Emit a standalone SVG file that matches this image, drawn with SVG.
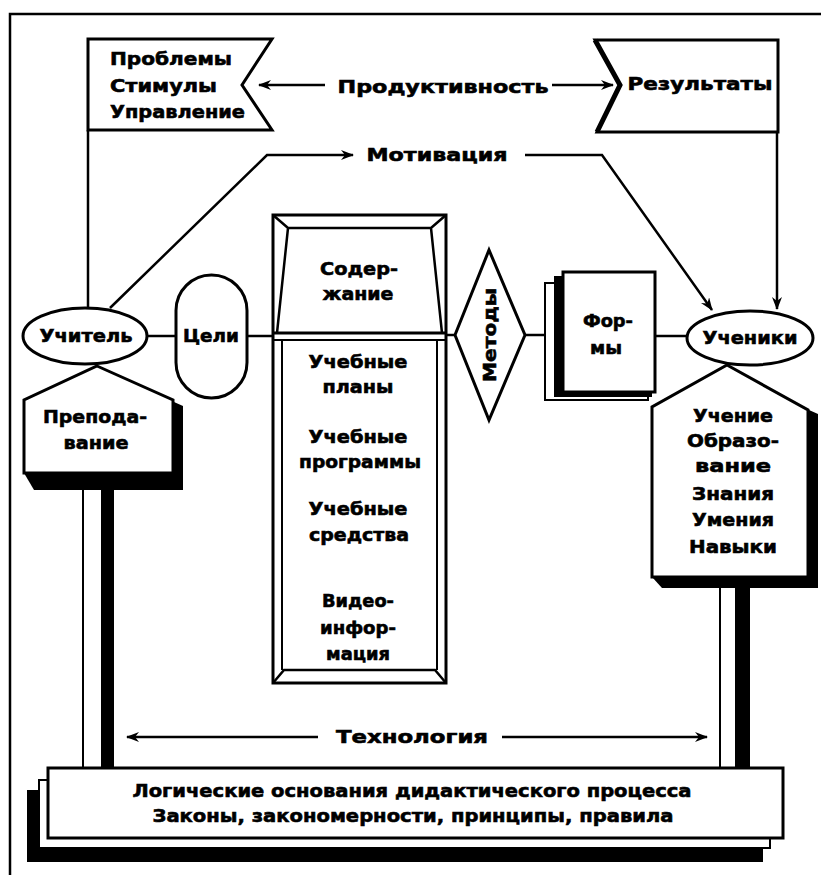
<svg xmlns="http://www.w3.org/2000/svg" width="821" height="875" viewBox="0 0 821 875">
<defs>
<style>
.s{fill:#fff;stroke:#000;stroke-width:3;stroke-linejoin:miter}
.s2{fill:#fff;stroke:#000;stroke-width:2}
.l{fill:none;stroke:#000;stroke-width:2.5}
.k{fill:#000;stroke:none}
.t{font-family:"DejaVu Sans","Liberation Sans",sans-serif;font-weight:bold;font-size:18px;fill:#000;stroke:#000;stroke-width:0.6;text-anchor:middle}
.ts{font-family:"DejaVu Sans","Liberation Sans",sans-serif;font-weight:bold;font-size:18px;fill:#000;stroke:#000;stroke-width:0.6;text-anchor:start}
</style>
<marker id="ah" viewBox="0 0 13 10" refX="12" refY="5" markerWidth="13" markerHeight="10" markerUnits="userSpaceOnUse" orient="auto">
<path d="M0,0 L13,5 L0,10 L4,5 Z" fill="#000"/>
</marker>
</defs>
<rect width="821" height="875" fill="#fff"/>
<g id="frame"><path class="l" d="M10,875 V14 H821" stroke-width="3"/></g>

<g id="supports">
<rect class="s2" x="83" y="488" width="19" height="280"/>
<rect class="k" x="102" y="488" width="12" height="280"/>
<rect class="s2" x="720" y="586" width="16" height="182"/>
<rect class="k" x="736" y="586" width="14" height="182"/>
</g>

<g id="connectors">
<path class="l" d="M88,130 V308"/>
<path class="l" d="M147,336 H176"/>
<path class="l" d="M247,336 H273"/>
<path class="l" d="M446,335 H455"/>
<path class="l" d="M525,335 H545"/>
<path class="l" d="M655,336 H687"/>
<path class="l" d="M325,85 H259" marker-end="url(#ah)"/>
<path class="l" d="M552,85 H613" marker-end="url(#ah)"/>
<path class="l" d="M110,308 L267,155 H353" marker-end="url(#ah)"/>
<path class="l" d="M525,155 H602 L712,310" marker-end="url(#ah)"/>
<path class="l" d="M777,132 V309" marker-end="url(#ah)"/>
<path class="l" d="M318,737 H127" marker-end="url(#ah)"/>
<path class="l" d="M502,737 H707" marker-end="url(#ah)"/>
<text class="t" x="443" y="93" textLength="211" lengthAdjust="spacingAndGlyphs">Продуктивность</text>
<text class="t" x="437" y="161" textLength="141" lengthAdjust="spacingAndGlyphs">Мотивация</text>
<text class="t" x="412" y="743" textLength="152" lengthAdjust="spacingAndGlyphs">Технология</text>
</g>

<g id="problems">
<polygon class="s" points="88,39 272,39 242,85 272,130 88,130"/>
<text class="ts" x="110" y="65" textLength="122" lengthAdjust="spacingAndGlyphs">Проблемы</text>
<text class="ts" x="110" y="92" textLength="107" lengthAdjust="spacingAndGlyphs">Стимулы</text>
<text class="ts" x="110" y="118" textLength="135" lengthAdjust="spacingAndGlyphs">Управление</text>
</g>

<g id="results">
<polygon class="s" points="595,40 778,40 778,132 597,132 620,85"/>
<polyline fill="none" stroke="#000" stroke-width="5" points="595,40 620,85 597,132"/>
<text class="t" x="700" y="90" textLength="145" lengthAdjust="spacingAndGlyphs">Результаты</text>
</g>

<g id="teacher">
<ellipse class="s" cx="85" cy="336" rx="62" ry="28"/>
<text class="t" x="86" y="342" textLength="93" lengthAdjust="spacingAndGlyphs">Учитель</text>
</g>

<g id="goals">
<rect class="s" x="176" y="275" width="71" height="123" rx="35.5"/>
<text class="t" x="211" y="342" textLength="56" lengthAdjust="spacingAndGlyphs">Цели</text>
</g>

<g id="content">
<rect class="s" x="273" y="215" width="173" height="468"/>
<path class="l" d="M273,215 L288,228 H431 L446,215 M288,228 L277,333 M431,228 L442,333"/>
<path fill="none" stroke="#000" stroke-width="3" d="M273,333 H446"/>
<path fill="none" stroke="#000" stroke-width="2" d="M273,340 H446 M282,340 V670 M437,340 V670"/>
<path class="l" d="M273,683 L284,670 H435 L446,683"/>
<text class="t" x="359" y="275" textLength="78" lengthAdjust="spacingAndGlyphs">Содер-</text>
<text class="t" x="358" y="300" textLength="71" lengthAdjust="spacingAndGlyphs">жание</text>
<text class="t" x="358" y="368" textLength="99" lengthAdjust="spacingAndGlyphs">Учебные</text>
<text class="t" x="358" y="393" textLength="71" lengthAdjust="spacingAndGlyphs">планы</text>
<text class="t" x="358" y="443" textLength="99" lengthAdjust="spacingAndGlyphs">Учебные</text>
<text class="t" x="360" y="468" textLength="122" lengthAdjust="spacingAndGlyphs">программы</text>
<text class="t" x="358" y="515" textLength="99" lengthAdjust="spacingAndGlyphs">Учебные</text>
<text class="t" x="359" y="541" textLength="100" lengthAdjust="spacingAndGlyphs">средства</text>
<text class="t" x="358" y="607" textLength="72" lengthAdjust="spacingAndGlyphs">Видео-</text>
<text class="t" x="358" y="634" textLength="76" lengthAdjust="spacingAndGlyphs">инфор-</text>
<text class="t" x="358" y="660" textLength="64" lengthAdjust="spacingAndGlyphs">мация</text>
</g>

<g id="methods">
<polygon class="s" points="455,335 489,250 525,335 489,420"/>
<text class="t" transform="translate(496,335) rotate(-90)" x="0" y="0" textLength="94" lengthAdjust="spacingAndGlyphs">Методы</text>
</g>

<g id="forms">
<rect class="s2" x="545" y="283" width="103" height="117" stroke-width="2.5"/>
<rect class="k" x="554" y="276" width="98" height="121"/>
<rect class="s" x="563" y="272" width="92" height="120"/>
<text class="t" x="608" y="327" textLength="50" lengthAdjust="spacingAndGlyphs">Фор-</text>
<text class="t" x="606" y="354" textLength="32" lengthAdjust="spacingAndGlyphs">мы</text>
</g>

<g id="students">
<ellipse class="s" cx="750" cy="338" rx="63" ry="27"/>
<text class="t" x="750" y="344" textLength="95" lengthAdjust="spacingAndGlyphs">Ученики</text>
</g>

<g id="teaching">
<polygon class="k" points="165,398 183,406 183,490 34,490 24,473"/>
<polygon class="s" points="97,366 173,400 173,473 24,473 24,400"/>
<text class="t" x="95" y="423" textLength="104" lengthAdjust="spacingAndGlyphs">Препода-</text>
<text class="t" x="96" y="449" textLength="65" lengthAdjust="spacingAndGlyphs">вание</text>
</g>

<g id="learning">
<polygon class="k" points="800,406 818,414 818,588 662,588 652,577"/>
<polygon class="s" points="727,365 808,410 808,577 652,577 652,407"/>
<text class="t" x="733" y="422" textLength="80" lengthAdjust="spacingAndGlyphs">Учение</text>
<text class="t" x="733" y="447" textLength="92" lengthAdjust="spacingAndGlyphs">Образо-</text>
<text class="t" x="733" y="472" textLength="76" lengthAdjust="spacingAndGlyphs">вание</text>
<text class="t" x="733" y="500" textLength="82" lengthAdjust="spacingAndGlyphs">Знания</text>
<text class="t" x="733" y="526" textLength="82" lengthAdjust="spacingAndGlyphs">Умения</text>
<text class="t" x="733" y="553" textLength="88" lengthAdjust="spacingAndGlyphs">Навыки</text>
</g>

<g id="logic">
<rect class="k" x="27" y="790" width="736" height="72"/>
<rect class="s2" x="39" y="780" width="731" height="68" stroke-width="2.5"/>
<rect class="s" x="48" y="768" width="735" height="70"/>
<text class="t" x="412" y="797" textLength="559" lengthAdjust="spacingAndGlyphs">Логические основания дидактического процесса</text>
<text class="t" x="413" y="822" textLength="521" lengthAdjust="spacingAndGlyphs">Законы, закономерности, принципы, правила</text>
</g>
</svg>
